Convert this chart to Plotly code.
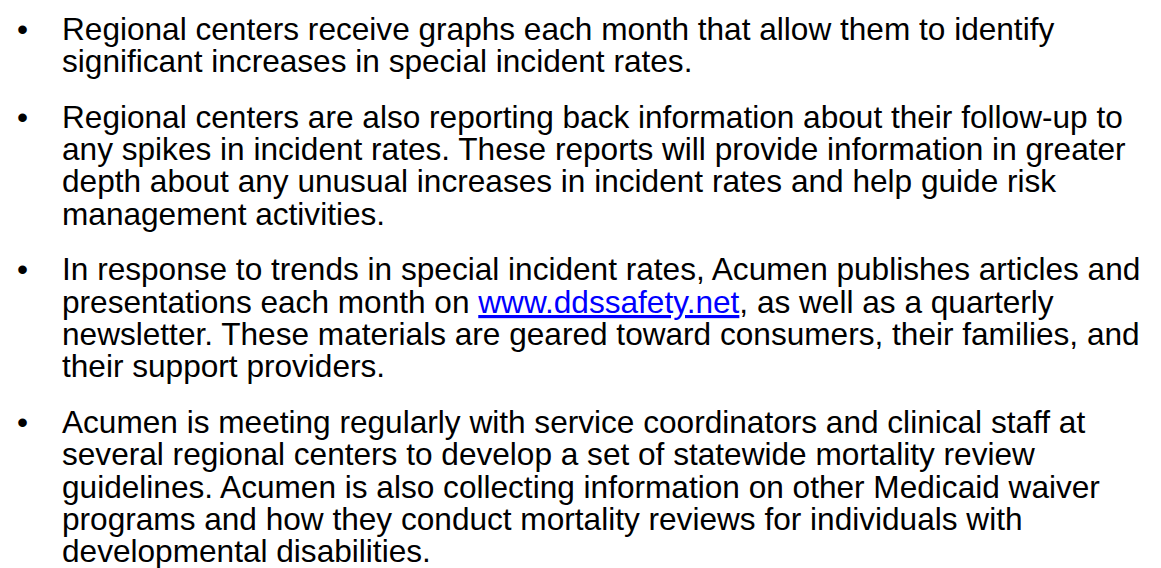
import plotly.graph_objects as go

W, H = 1161, 568

# Bullet paragraphs, wrapped as in the reference (one string per printed line)
para1 = [
    "Regional centers receive graphs each month that allow them to identify",
    "significant increases in special incident rates.",
]
para2 = [
    "Regional centers are also reporting back information about their follow-up to",
    "any spikes in incident rates. These reports will provide information in greater",
    "depth about any unusual increases in incident rates and help guide risk",
    "management activities.",
]
para3 = [
    "In response to trends in special incident rates, Acumen publishes articles and",
    "presentations each month on <span style='color:#0000FF'><u>www.ddssafety.net</u></span>, as well as a quarterly",
    "newsletter. These materials are geared toward consumers, their families, and",
    "their support providers.",
]
para4 = [
    "Acumen is meeting regularly with service coordinators and clinical staff at",
    "several regional centers to develop a set of statewide mortality review",
    "guidelines. Acumen is also collecting information on other Medicaid waiver",
    "programs and how they conduct mortality reviews for individuals with",
    "developmental disabilities.",
]
paragraphs = [para1, para2, para3, para4]

FONT = "Liberation Sans, Arial, sans-serif"
FS = 31.6
LINE = 32.3
GAP = 23.5
Y0 = 20.5
X_BULLET = 14
X_TEXT = 53

fig = go.Figure()
annotations = []
y = Y0
for p in paragraphs:
    annotations.append(dict(x=X_BULLET, y=y, xref="x", yref="y", text="•",
                            showarrow=False, xanchor="center", yanchor="middle",
                            font=dict(family=FONT, size=FS, color="black"), borderpad=0))
    for line in p:
        annotations.append(dict(x=X_TEXT, y=y, xref="x", yref="y", text=line,
                                showarrow=False, xanchor="left", yanchor="middle",
                                font=dict(family=FONT, size=FS, color="black"), borderpad=0))
        y += LINE
    y += GAP

fig.update_layout(
    width=W, height=H, margin=dict(l=0, r=0, t=0, b=0),
    paper_bgcolor="white", plot_bgcolor="white",
    xaxis=dict(range=[0, W], visible=False, fixedrange=True),
    yaxis=dict(range=[H, 0], visible=False, fixedrange=True),
    annotations=annotations, showlegend=False,
)
fig.write_html("out.html", config={"displayModeBar": False})
